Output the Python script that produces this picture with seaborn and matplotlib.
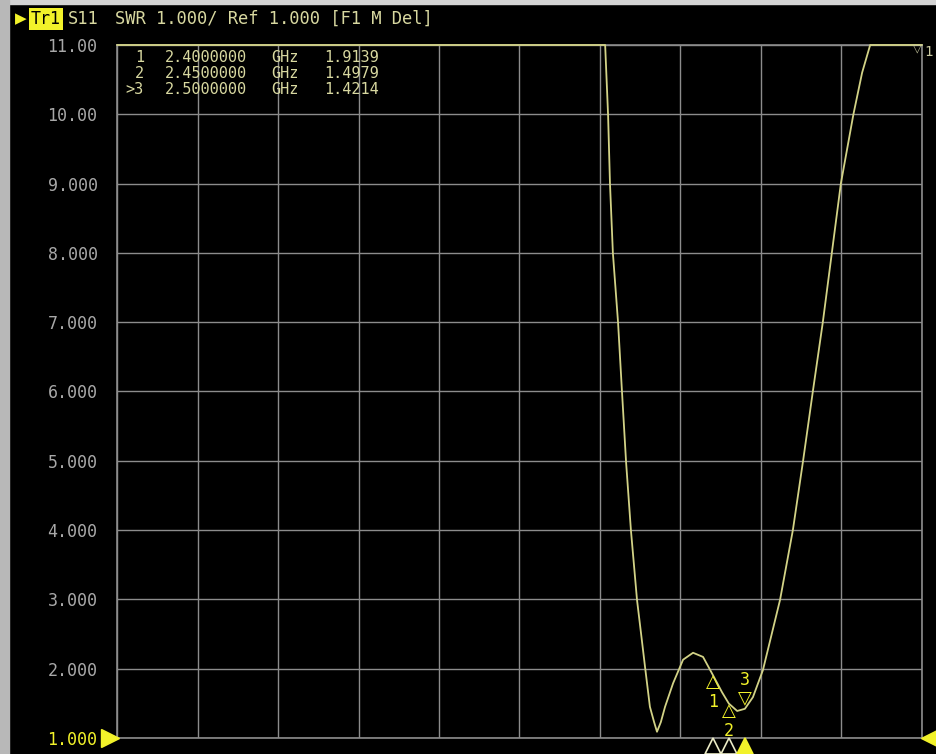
import matplotlib
matplotlib.use("Agg")
import matplotlib.pyplot as plt
from matplotlib.patches import Rectangle
import numpy as np
import pandas as pd
import seaborn as sns


# S11 SWR trace (values above 11 are clipped by the display)
freq_ghz = [0.55, 2.066, 2.075, 2.081, 2.090, 2.106, 2.118, 2.131, 2.146, 2.165,
            2.180, 2.190, 2.205, 2.218, 2.227, 2.239, 2.252, 2.277, 2.308, 2.339,
            2.370, 2.400, 2.429, 2.450, 2.476, 2.500, 2.525, 2.556, 2.609, 2.649,
            2.681, 2.711, 2.742, 2.770, 2.798, 2.837, 2.864, 2.889, 3.05]
swr = [11.0, 11.0, 10.0, 9.0, 8.0, 7.0, 6.02, 4.98, 4.0, 2.99,
       2.41, 2.02, 1.45, 1.23, 1.09, 1.23, 1.45, 1.79, 2.13, 2.23,
       2.17, 1.9139, 1.66, 1.4979, 1.39, 1.4214, 1.59, 1.98, 2.99, 4.0,
       5.01, 6.0, 7.0, 8.0, 9.0, 10.0, 10.6, 11.0, 11.0]

marker_ids = ["1", "2", "3"]
marker_freq = [2.40, 2.45, 2.50]
marker_swr = [1.9139, 1.4979, 1.4214]
active_marker = "3"

y_ticks = [1, 2, 3, 4, 5, 6, 7, 8, 9, 10, 11]
y_tick_labels = ["1.000", "2.000", "3.000", "4.000", "5.000", "6.000",
                 "7.000", "8.000", "9.000", "10.00", "11.00"]
x_start, x_stop, x_divs = 0.55, 3.05, 10

W, H = 937, 754
BG = "black"
GRID = "#8c8c8c"
TRACE = "#d2d286"
YELLOW = "#f2f22a"
TEXT = "#d8d8a0"
TICK = "#a8a8a8"
MONO = ["DejaVu Sans Mono", "DejaVu Sans"]

sns.set_style("dark", {"axes.facecolor": BG, "figure.facecolor": BG})
plt.rcParams["font.family"] = MONO

fig = plt.figure(figsize=(W / 100, H / 100), dpi=100)
fig.patch.set_facecolor(BG)
# light window frame on top and left edges
fig.patches.append(Rectangle((0, 1 - 4 / H), 1, 4 / H, transform=fig.transFigure,
                             color="#d4d4d4", zorder=0))
fig.patches.append(Rectangle((0, 0), 9 / W, 1, transform=fig.transFigure,
                             color="#b8b8b8", zorder=0))

ax = fig.add_axes([117 / W, 1 - 738 / H, 805 / W, 693 / H])
ax.set_facecolor(BG)

data = pd.DataFrame({"freq": freq_ghz, "swr": swr})
sns.lineplot(data=data, x="freq", y="swr", color=TRACE, lw=1.3, ax=ax,
             zorder=5, clip_on=False)

ax.set_xlim(x_start, x_stop)
ax.set_ylim(1, 11)
ax.set_xticks(np.linspace(x_start, x_stop, x_divs + 1))
ax.set_yticks(y_ticks)
ax.set_yticklabels(y_tick_labels)
ax.tick_params(axis="x", labelbottom=False, length=0)
ax.tick_params(axis="y", length=0, pad=14, labelsize=12, labelcolor=TICK)
for lab in ax.get_yticklabels():
    if lab.get_text() == "1.000":
        lab.set_color(YELLOW)
ax.set_xlabel("")
ax.set_ylabel("")
ax.grid(True, color=GRID, lw=1)
for sp in ax.spines.values():
    sp.set_color(GRID)
    sp.set_linewidth(1.2)

# reference level arrows at both sides
ax.plot([-0.009], [1], marker=">", ms=13, color=YELLOW, clip_on=False,
        transform=ax.get_yaxis_transform(), zorder=6)
ax.plot([1.01], [1], marker="<", ms=13, color=YELLOW, clip_on=False,
        transform=ax.get_yaxis_transform(), zorder=6)

# markers on the trace and along the bottom
for mid, mf, ms in zip(marker_ids, marker_freq, marker_swr):
    active = mid == active_marker
    ax.plot([mf], [-0.012], marker="^", ms=11, clip_on=False,
            transform=ax.get_xaxis_transform(), zorder=6,
            color=YELLOW if active else "#eaeac4",
            markerfacecolor=YELLOW if active else "none", mew=1.2)
    if active:
        ax.annotate("▽", (mf, ms), xytext=(0, 1), textcoords="offset points",
                    ha="center", va="bottom", color=YELLOW, fontsize=13, zorder=7,
                    family=["DejaVu Sans"])
        ax.annotate(mid, (mf, ms), xytext=(0, 14), textcoords="offset points",
                    ha="center", va="bottom", color=YELLOW, fontsize=12, zorder=7)
    else:
        ax.annotate("△", (mf, ms), xytext=(0, 1), textcoords="offset points",
                    ha="center", va="top", color=YELLOW, fontsize=13, zorder=7,
                    family=["DejaVu Sans"])
        ax.annotate(mid, (mf, ms), xytext=(0, -13), textcoords="offset points",
                    ha="center", va="top", color=YELLOW, fontsize=12, zorder=7)

# marker table
for i, (mid, mf, ms) in enumerate(zip(marker_ids, marker_freq, marker_swr)):
    prefix = ">" if mid == active_marker else ""
    y = 1 - (58 + 16 * i) / H
    kw = dict(color=TEXT, fontsize=11, va="center")
    fig.text(144 / W, y, prefix + mid, ha="right", **kw)
    fig.text(165 / W, y, f"{mf:.7f}", ha="left", **kw)
    fig.text(271 / W, y, "GHz", ha="left", **kw)
    fig.text(324 / W, y, f"{ms:.4f}", ha="left", **kw)

# header line
fig.text(15 / W, 1 - 19 / H, "▶", color=YELLOW, fontsize=11, va="center", ha="left",
         family=["DejaVu Sans"])
fig.text(31 / W, 1 - 19 / H, "Tr1", color="black", fontsize=12, va="center", ha="left",
         bbox=dict(boxstyle="square,pad=0.1", fc=YELLOW, ec="none"))
fig.text(68 / W, 1 - 19 / H, "S11", color=TEXT, fontsize=12.3, va="center", ha="left")
fig.text(115 / W, 1 - 19 / H, "SWR 1.000/ Ref 1.000 [F1 M Del]", color=TEXT,
         fontsize=12.3, va="center", ha="left")

# off-screen marker indicator at the top right
fig.text(913 / W, 1 - 48 / H, "▽", color="#c8c8a0", fontsize=8, va="center", ha="left",
         family=["DejaVu Sans"])
fig.text(924 / W, 1 - 52 / H, "1", color="#c8c8a0", fontsize=10, va="center", ha="left")

fig.savefig("out.png", dpi=100, facecolor=fig.get_facecolor())
